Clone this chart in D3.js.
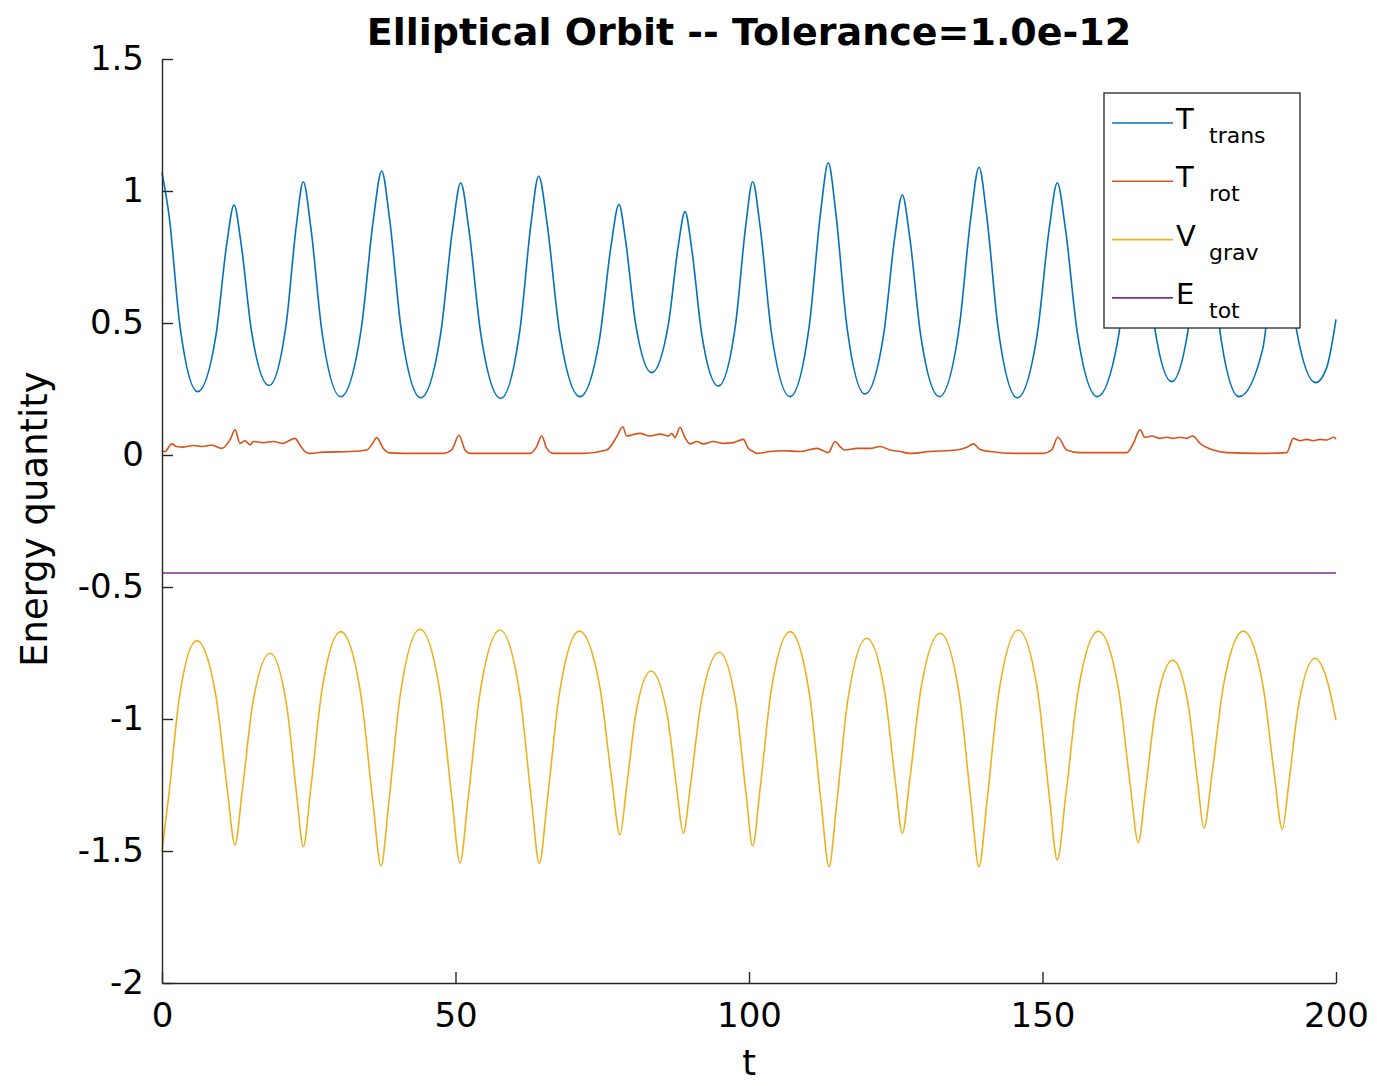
<!DOCTYPE html>
<html lang="en">
<head>
    <meta charset="UTF-8">
    <title>Elliptical Orbit</title>
    <script src="https://cdn.jsdelivr.net/npm/d3@7"></script>
    <style>
        body { margin: 0; background: #fff; }
        text { font-family: "DejaVu Sans", sans-serif; fill: #000; }
    </style>
</head>
<body>
    <svg width="1377" height="1086" id="mainsvg" style="display: block;"></svg>
    <script>
        // values
        const transT = [0, 1.22, 3.04, 6.08, 9.18, 11.03, 12.27, 13.46, 15.25, 18.23, 21.15, 22.90, 24.07, 25.34, 27.26, 30.44, 33.94, 36.03, 37.43, 38.76, 40.75, 44.07, 47.48, 49.53, 50.89, 52.25, 54.30, 57.70, 60.94, 62.88, 64.17, 65.58, 67.69, 71.21, 74.53, 76.52, 77.85, 78.96, 80.64, 83.42, 86.26, 87.96, 89.10, 90.23, 91.94, 94.77, 97.70, 99.46, 100.63, 101.90, 103.81, 106.99, 110.25, 112.21, 113.51, 114.76, 116.64, 119.76, 122.94, 124.85, 126.12, 127.38, 129.27, 132.42, 135.80, 137.83, 139.18, 140.49, 142.45, 145.71, 149.12, 151.16, 152.52, 153.88, 155.93, 159.34, 162.83, 164.92, 166.32, 167.46, 169.17, 172.01, 174.76, 176.41, 177.51, 178.70, 180.50, 183.48, 187.5, 189.6, 190.85, 191.99, 193.3, 196.54, 198.4, 200];
        const transVal = [1.07, 0.904, 0.492, 0.24, 0.452, 0.799, 0.947, 0.803, 0.468, 0.263, 0.495, 0.873, 1.035, 0.864, 0.465, 0.221, 0.478, 0.896, 1.076, 0.896, 0.475, 0.217, 0.461, 0.860, 1.031, 0.860, 0.460, 0.215, 0.468, 0.880, 1.057, 0.881, 0.472, 0.221, 0.439, 0.796, 0.949, 0.815, 0.503, 0.312, 0.495, 0.794, 0.922, 0.783, 0.459, 0.261, 0.493, 0.872, 1.035, 0.864, 0.465, 0.221, 0.487, 0.921, 1.107, 0.923, 0.494, 0.231, 0.457, 0.827, 0.985, 0.825, 0.450, 0.221, 0.482, 0.908, 1.090, 0.907, 0.479, 0.217, 0.461, 0.860, 1.031, 0.861, 0.464, 0.221, 0.434, 0.781, 0.93, 0.793, 0.474, 0.278, 0.468, 0.777, 0.91, 0.765, 0.428, 0.221, 0.40, 0.80, 0.96, 0.816, 0.47, 0.274, 0.33, 0.514];

        const rotT = [0, 0.51, 1.65, 2.50, 3.63, 5.33, 7.04, 8.46, 10.17, 11.58, 12.44, 13.29, 14.14, 14.99, 15.56, 17.26, 18.96, 20.67, 21.52, 22.66, 23.51, 24.36, 25.21, 27.48, 32.03, 34.87, 35.89, 36.58, 37.70, 38.84, 43.39, 47.93, 49.35, 50.6, 51.62, 52.47, 57.58, 62.69, 63.83, 64.69, 65.54, 66.66, 71.77, 75.76, 77.46, 78.48, 79.17, 80.02, 81.43, 83.13, 84.84, 86.26, 86.83, 87.39, 88.25, 89.10, 89.95, 91.09, 92.22, 93.92, 95.62, 97.33, 99.04, 99.89, 100.74, 101.31, 103.58, 105.85, 108.69, 111.54, 112.39, 113.51, 114.65, 115.50, 116.36, 118.35, 120.62, 122.32, 124.02, 125.73, 127.43, 130.84, 135.38, 137.09, 138.21, 139.35, 141.06, 145.60, 150.14, 151.57, 152.6, 154.12, 156.39, 160.94, 164.35, 165.47, 166.61, 167.46, 168.60, 170.02, 171.16, 172.30, 173.43, 174.57, 175.59, 176.83, 179.10, 181.37, 186.49, 191.60, 192.73, 193.87, 195.01, 196.14, 197.28, 198.42, 199.66, 200];
        const rotVal = [0.015, 0.013, 0.042, 0.032, 0.030, 0.036, 0.032, 0.038, 0.025, 0.057, 0.095, 0.044, 0.054, 0.038, 0.051, 0.047, 0.051, 0.044, 0.053, 0.063, 0.038, 0.013, 0.006, 0.011, 0.013, 0.019, 0.044, 0.066, 0.025, 0.008, 0.006, 0.006, 0.019, 0.075, 0.019, 0.006, 0.006, 0.006, 0.032, 0.072, 0.025, 0.006, 0.006, 0.019, 0.069, 0.107, 0.072, 0.076, 0.082, 0.072, 0.079, 0.072, 0.082, 0.066, 0.105, 0.066, 0.042, 0.051, 0.042, 0.051, 0.044, 0.047, 0.059, 0.025, 0.013, 0.006, 0.013, 0.016, 0.013, 0.025, 0.019, 0.009, 0.051, 0.032, 0.019, 0.025, 0.025, 0.032, 0.019, 0.013, 0.006, 0.013, 0.019, 0.029, 0.042, 0.021, 0.013, 0.006, 0.006, 0.019, 0.067, 0.019, 0.009, 0.009, 0.009, 0.044, 0.095, 0.067, 0.072, 0.063, 0.067, 0.063, 0.067, 0.063, 0.072, 0.044, 0.019, 0.009, 0.006, 0.009, 0.063, 0.054, 0.059, 0.054, 0.059, 0.057, 0.067, 0.060];

        const gravT = [0, 1.18, 2.96, 5.91, 9.18, 11.13, 12.44, 13.63, 15.42, 18.40, 21.24, 22.94, 24.07, 25.34, 27.26, 30.44, 33.88, 35.94, 37.31, 38.64, 40.63, 43.95, 47.36, 49.41, 50.77, 52.13, 54.18, 57.58, 60.93, 62.94, 64.28, 65.64, 67.69, 71.09, 74.56, 76.63, 78.02, 79.08, 80.67, 83.31, 86.06, 87.71, 88.81, 90.04, 91.88, 94.94, 97.79, 99.49, 100.63, 101.90, 103.81, 106.99, 110.31, 112.30, 113.63, 114.91, 116.84, 120.05, 123.09, 124.91, 126.12, 127.40, 129.33, 132.54, 135.86, 137.85, 139.18, 140.52, 142.53, 145.88, 149.20, 151.19, 152.52, 153.92, 156.02, 159.51, 162.92, 164.96, 166.32, 167.49, 169.25, 172.18, 174.85, 176.44, 177.51, 178.85, 180.86, 184.21, 187.53, 189.52, 190.85, 191.96, 193.64, 196.42, 198.3, 200];
        const gravVal = [-1.50, -1.285, -0.918, -0.703, -0.912, -1.268, -1.477, -1.281, -0.947, -0.751, -0.949, -1.286, -1.484, -1.264, -0.889, -0.669, -0.909, -1.317, -1.557, -1.315, -0.902, -0.660, -0.899, -1.305, -1.544, -1.306, -0.901, -0.663, -0.902, -1.308, -1.547, -1.309, -0.905, -0.667, -0.875, -1.231, -1.439, -1.271, -0.986, -0.818, -0.984, -1.267, -1.433, -1.248, -0.932, -0.747, -0.945, -1.283, -1.481, -1.262, -0.888, -0.669, -0.909, -1.319, -1.559, -1.325, -0.928, -0.694, -0.894, -1.233, -1.433, -1.228, -0.880, -0.675, -0.914, -1.320, -1.559, -1.317, -0.905, -0.663, -0.898, -1.299, -1.534, -1.300, -0.901, -0.667, -0.883, -1.252, -1.468, -1.281, -0.964, -0.777, -0.949, -1.242, -1.414, -1.212, -0.869, -0.667, -0.870, -1.215, -1.418, -1.243, -0.945, -0.770, -0.84, -1.004];

        const totT = [0, 200];
        const totVal = [-0.447, -0.447];

        const xTicks = [0, 50, 100, 150, 200];
        const yTicks = [-2, -1.5, -1, -0.5, 0, 0.5, 1, 1.5];
        const yTickLabels = ["-2", "-1.5", "-1", "-0.5", "0", "0.5", "1", "1.5"];

        const seriesNames = [["T", "trans"], ["T", "rot"], ["V", "grav"], ["E", "tot"]];
        const seriesColors = ["#0072BD", "#D95319", "#EDB120", "#7E2F8E"];

        const svg = d3.select("#mainsvg");
        const axisColor = "#262626";

        const x = d3.scaleLinear().domain([0, 200]).range([162, 1336]);
        const y = d3.scaleLinear().domain([-2, 1.5]).range([983, 59]);

        const series = [
            d3.zip(transT, transVal),
            d3.zip(rotT, rotVal),
            d3.zip(gravT, gravVal),
            d3.zip(totT, totVal)
        ];

        const line = d3.line()
            .x(d => x(d[0]))
            .y(d => y(d[1]))
            .curve(d3.curveMonotoneX);

        svg.append("g").selectAll("path").data(series).join("path")
            .attr("fill", "none")
            .attr("stroke", (d, i) => seriesColors[i])
            .attr("stroke-width", 1.6)
            .attr("d", line);

        // axes, ticks point inward like matlab
        const yAxis = d3.axisLeft(y)
            .tickValues(yTicks)
            .tickFormat((d, i) => yTickLabels[i])
            .tickSizeInner(-11)
            .tickSizeOuter(0)
            .tickPadding(18);
        const gy = svg.append("g").attr("transform", "translate(162,0)").call(yAxis);

        const xAxis = d3.axisBottom(x)
            .tickValues(xTicks)
            .tickSizeInner(-11)
            .tickSizeOuter(0)
            .tickPadding(20);
        const gx = svg.append("g").attr("transform", "translate(0,983)").call(xAxis);

        [gx, gy].forEach(g => {
            g.select(".domain").attr("stroke", axisColor).attr("stroke-width", 1.4);
            g.selectAll(".tick line").attr("stroke", axisColor).attr("stroke-width", 1.4);
            g.selectAll(".tick text")
                .attr("font-family", "DejaVu Sans, sans-serif")
                .attr("font-size", 34)
                .attr("fill", "#262626");
        });

        svg.append("text")
            .attr("x", 749)
            .attr("y", 45)
            .attr("text-anchor", "middle")
            .attr("font-size", 38)
            .attr("font-weight", "bold")
            .text("Elliptical Orbit -- Tolerance=1.0e-12");

        svg.append("text")
            .attr("x", 749)
            .attr("y", 1075)
            .attr("text-anchor", "middle")
            .attr("font-size", 35)
            .attr("fill", "#262626")
            .text("t");

        svg.append("text")
            .attr("transform", "translate(47,519) rotate(-90)")
            .attr("text-anchor", "middle")
            .attr("font-size", 37)
            .attr("fill", "#262626")
            .text("Energy quantity");

        // legend
        const legend = svg.append("g");
        legend.append("rect")
            .attr("x", 1104).attr("y", 93)
            .attr("width", 196).attr("height", 235)
            .attr("fill", "#fff")
            .attr("stroke", axisColor)
            .attr("stroke-width", 1.3);

        const item = legend.selectAll("g.item").data(seriesNames).join("g")
            .attr("class", "item")
            .attr("transform", (d, i) => `translate(0, ${123 + i * 58.3})`);

        item.append("line")
            .attr("x1", 1112).attr("x2", 1173)
            .attr("stroke", (d, i) => seriesColors[i])
            .attr("stroke-width", 1.6);

        item.append("text")
            .attr("x", 1176).attr("y", 6)
            .attr("font-size", 29)
            .text(d => d[0]);

        item.append("text")
            .attr("x", 1209).attr("y", 20)
            .attr("font-size", 22)
            .text(d => d[1]);
    </script>
</body>
</html>
